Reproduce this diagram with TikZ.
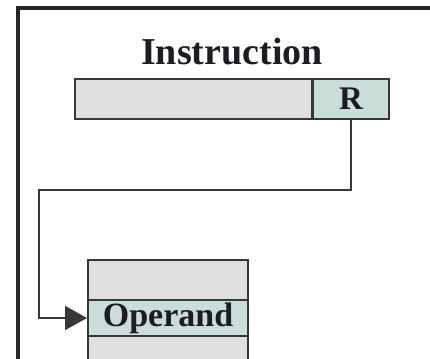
\documentclass[tikz,border=0pt]{standalone}
\usepackage{fontspec}
\setmainfont{Liberation Serif}
\usetikzlibrary{arrows.meta}
\definecolor{cellgray}{RGB}{223,223,226}
\definecolor{celltint}{RGB}{202,221,216}
\definecolor{edge}{RGB}{55,55,58}
\definecolor{ink}{RGB}{30,28,34}
\tikzset{
  cell/.style={draw=edge, line width=2pt, inner sep=0pt, anchor=north west, text=ink, font=\bfseries\fontsize{33}{33}\selectfont},
  plaincell/.style={cell, fill=cellgray},
  tintcell/.style={cell, fill=celltint},
  link/.style={draw=edge, line width=2pt},
  frame/.style={draw=black!85, line width=4.5pt}
}
\begin{document}
\begin{tikzpicture}[x=1pt, y=-1pt]
  \useasboundingbox (0,0) rectangle (430,358);
  % outer frame, open towards the right and bottom
  \draw[frame] (18,380) -- (18,8) -- (450,8);
  % instruction word
  \node[font=\bfseries\fontsize{38}{38}\selectfont, text=ink] (title) at (232,52) {Instruction};
  \node[plaincell, minimum width=238pt, minimum height=40pt] (ifield) at (74,78) {};
  \node[tintcell, minimum width=76pt, minimum height=40pt] (rcell) at (312,78) {R};
  \draw[edge, line width=3pt] (rcell.north west) -- (rcell.south west);
  % register / memory column
  \node[plaincell, minimum width=160pt, minimum height=40pt] (top) at (87,259) {};
  \node[tintcell, minimum width=160pt, minimum height=36pt, font=\bfseries\fontsize{34}{34}\selectfont] (operand) at (87,299) {Operand};
  \node[plaincell, minimum width=160pt, minimum height=40pt] (bottom) at (87,335) {};
  % pointer from R to the operand
  \coordinate (bend) at (39,190);
  \draw[link, -{Triangle[length=22pt, width=24pt]}] (rcell.south) |- (bend) |- (operand.west);
\end{tikzpicture}
\end{document}
